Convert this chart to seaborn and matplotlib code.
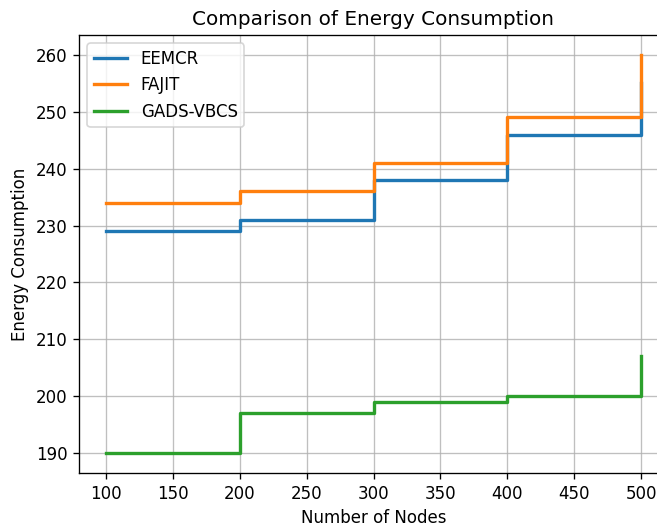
import pandas as pd
import matplotlib
matplotlib.use("Agg")
import matplotlib.pyplot as plt
import seaborn as sns

nodes = [100, 200, 300, 400, 500]
eemcr = [229, 231, 238, 246, 255]
fajit = [234, 236, 241, 249, 260]
gads_vbcs = [190, 197, 199, 200, 207]

df = pd.DataFrame({
    "Number of Nodes": nodes * 3,
    "Energy Consumption": eemcr + fajit + gads_vbcs,
    "Method": ["EEMCR"] * 5 + ["FAJIT"] * 5 + ["GADS-VBCS"] * 5,
})

# the reference looks like a default figure rendered at a higher dpi, cropped on the right
fig, ax = plt.subplots(figsize=(657 / 120, 527 / 120), dpi=120)
sns.lineplot(data=df, x="Number of Nodes", y="Energy Consumption", hue="Method",
             palette=["#1f77b4", "#ff7f0e", "#2ca02c"], drawstyle="steps-post",
             linewidth=2, ax=ax)
ax.set_title("Comparison of Energy Consumption")
ax.grid(True, color="#b0b0b0", linewidth=0.8, alpha=0.8)
ax.set_xticks([100, 150, 200, 250, 300, 350, 400, 450, 500])
ax.legend(loc="upper left")
fig.subplots_adjust(left=79 / 657, right=668 / 657, top=1 - 35 / 527, bottom=1 - 473 / 527)
fig.savefig("out.png")
